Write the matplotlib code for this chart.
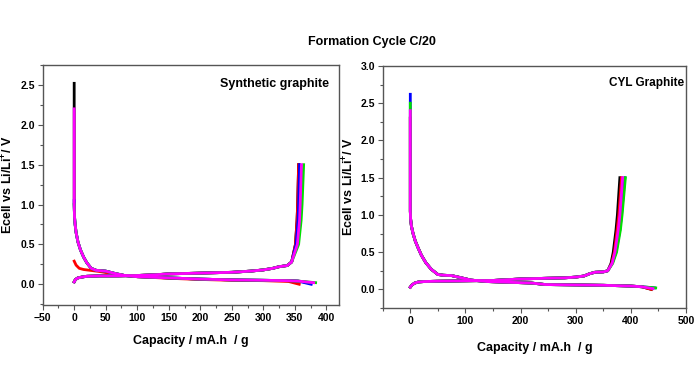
import matplotlib
matplotlib.use('Agg')
import matplotlib.pyplot as plt
from matplotlib.ticker import MultipleLocator

plt.rcParams['font.family'] = ['Liberation Sans', 'DejaVu Sans']
plt.rcParams['font.weight'] = 'bold'
plt.rcParams['mathtext.fontset'] = 'custom'
plt.rcParams['mathtext.rm'] = 'Liberation Sans'
plt.rcParams['mathtext.bf'] = 'Liberation Sans:bold'

# Cycle colours, drawn in this order (magenta on top)
colors = ['black', 'red', 'blue', '#00e000', 'magenta']

# ---- Synthetic graphite: lithiation (discharge) body
sg_dis_cap = [0, 0.5, 1.5, 3, 6, 10, 15, 20, 27, 35, 50, 65, 80, 100, 150, 200, 250, 300, 340, 355]
sg_dis_v = [1.0, 0.85, 0.75, 0.65, 0.53, 0.43, 0.34, 0.27, 0.2, 0.175, 0.165, 0.135, 0.11, 0.095, 0.08, 0.065, 0.055, 0.05, 0.045, 0.04]
sg_start_v = [2.52, None, 1.05, 1.0, 2.2]
sg_dis_end_cap = [375, 357, 376, 383, 380]
sg_dis_end_v = [0.02, 0.0, 0.0, 0.02, 0.02]
# red cycle restarts at 0.3 V
sg_red_cap = [0, 3, 8, 15, 25, 40, 55, 80, 100, 150, 200, 250, 300, 340, 357]
sg_red_v = [0.29, 0.24, 0.2, 0.185, 0.175, 0.16, 0.14, 0.11, 0.095, 0.075, 0.06, 0.05, 0.045, 0.035, 0.0]

# ---- Synthetic graphite: delithiation (charge) body
sg_chg_cap = [0, 2, 6, 12, 20, 40, 70, 100, 130, 150, 200, 250, 280, 300, 315, 325, 338, 345]
sg_chg_v = [0.03, 0.06, 0.08, 0.09, 0.1, 0.105, 0.105, 0.11, 0.12, 0.13, 0.14, 0.15, 0.165, 0.18, 0.2, 0.22, 0.235, 0.28]
sg_chg_tail_v = [0.5, 0.8, 1.0, 1.5]
sg_chg_tail_cap = [[351, 353.5, 354.5, 356],
                   [351, 353.5, 354.5, 356],
                   [352, 355, 356, 357.5],
                   [356, 360, 361.5, 364],
                   [354, 357.5, 358.5, 360.5]]

# ---- CYL graphite: discharge body
cyl_dis_cap = [0, 0.5, 2, 5, 9, 14, 20, 28, 38, 50, 60, 75, 90, 110, 140, 180, 220, 245, 300, 350, 400, 420]
cyl_dis_v = [1.05, 0.95, 0.85, 0.75, 0.65, 0.56, 0.46, 0.36, 0.27, 0.2, 0.19, 0.185, 0.16, 0.125, 0.105, 0.095, 0.085, 0.065, 0.06, 0.055, 0.045, 0.035]
cyl_start_v = [2.3, 2.3, 2.62, 2.5, 2.4]
cyl_dis_end_cap = [437, 437, 443, 445, 440]
cyl_dis_end_v = [0.0, 0.0, 0.02, 0.02, 0.01]

# ---- CYL graphite: charge body
cyl_chg_cap = [0, 3, 8, 15, 25, 50, 100, 150, 200, 250, 280, 300, 315, 325, 335, 350, 358]
cyl_chg_v = [0.03, 0.06, 0.085, 0.1, 0.105, 0.11, 0.115, 0.12, 0.14, 0.15, 0.155, 0.165, 0.18, 0.21, 0.23, 0.235, 0.25]
cyl_chg_tail_v = [0.35, 0.5, 0.8, 1.0, 1.5]
cyl_chg_tail_cap = [[364, 368, 373, 375.5, 380],
                    [365, 370, 375, 378, 383],
                    [366, 373, 380, 383, 389],
                    [367, 374, 381, 384, 390],
                    [366, 371, 377, 380, 385]]

fig = plt.figure(figsize=(6.96, 3.85), dpi=100)
ax1 = fig.add_axes([0.0613, 0.2078, 0.4257, 0.6234])
ax2 = fig.add_axes([0.5499, 0.2, 0.4358, 0.6286])

lw = 2.0
for i, c in enumerate(colors):
    # synthetic graphite
    if sg_start_v[i] is None:
        ax1.plot(sg_red_cap, sg_red_v, color=c, lw=lw)
    else:
        ax1.plot([0] + sg_dis_cap + [sg_dis_end_cap[i]],
                 [sg_start_v[i]] + sg_dis_v + [sg_dis_end_v[i]], color=c, lw=lw)
    ax1.plot(sg_chg_cap + sg_chg_tail_cap[i], sg_chg_v + sg_chg_tail_v, color=c, lw=lw)
    # CYL graphite
    ax2.plot([0] + cyl_dis_cap + [cyl_dis_end_cap[i]],
             [cyl_start_v[i]] + cyl_dis_v + [cyl_dis_end_v[i]], color=c, lw=lw)
    ax2.plot(cyl_chg_cap + cyl_chg_tail_cap[i], cyl_chg_v + cyl_chg_tail_v, color=c, lw=lw)

ylab = r'Ecell vs Li/Li$^{\mathbf{+}}$/ V'
xlab = 'Capacity / mA.h  / g'

ax1.set_xlim(-50, 420)
ax1.set_ylim(-0.26, 2.75)
ax1.xaxis.set_major_locator(MultipleLocator(50))
ax1.xaxis.set_minor_locator(MultipleLocator(25))
ax2.set_xlim(-50, 500)
ax2.set_ylim(-0.25, 3.0)
ax2.xaxis.set_major_locator(MultipleLocator(100))
ax2.xaxis.set_minor_locator(MultipleLocator(50))

for ax in (ax1, ax2):
    ax.yaxis.set_major_locator(MultipleLocator(0.5))
    ax.yaxis.set_minor_locator(MultipleLocator(0.25))
    ax.yaxis.set_major_formatter(matplotlib.ticker.FormatStrFormatter('%.1f'))
    ax.tick_params(which='major', direction='out', length=3.5, width=0.8, color='#555555', labelsize=7.5, pad=2)
    ax.tick_params(which='minor', direction='out', length=2, width=0.8, color='#555555')
    for s in ax.spines.values():
        s.set_color('#555555')
        s.set_linewidth(1.0)
    for lab in ax.get_xticklabels() + ax.get_yticklabels():
        lab.set_fontweight('bold')
    ax.set_ylabel(ylab, fontsize=9, fontweight='bold')
    ax.set_xlabel(xlab, fontsize=9, fontweight='bold')

# y label anchor is its right edge (rotation_mode='anchor')
ax1.yaxis.set_label_coords(-0.09, 0.5)
ax1.xaxis.set_label_coords(0.5, -0.125)
ax2.yaxis.set_label_coords(-0.085, 0.5)
ax2.xaxis.set_label_coords(0.5, -0.142)

ax1.text(0.966, 0.921, 'Synthetic graphite', transform=ax1.transAxes, ha='right', va='center',
         fontsize=9, fontweight='bold')
ax2.text(0.993, 0.928, 'CYL Graphite', transform=ax2.transAxes, ha='right', va='center',
         fontsize=8.5, fontweight='bold')

fig.text(0.535, 0.891, 'Formation Cycle C/20', ha='center', va='center', fontsize=9, fontweight='bold')

fig.savefig('out.png', dpi=100)
